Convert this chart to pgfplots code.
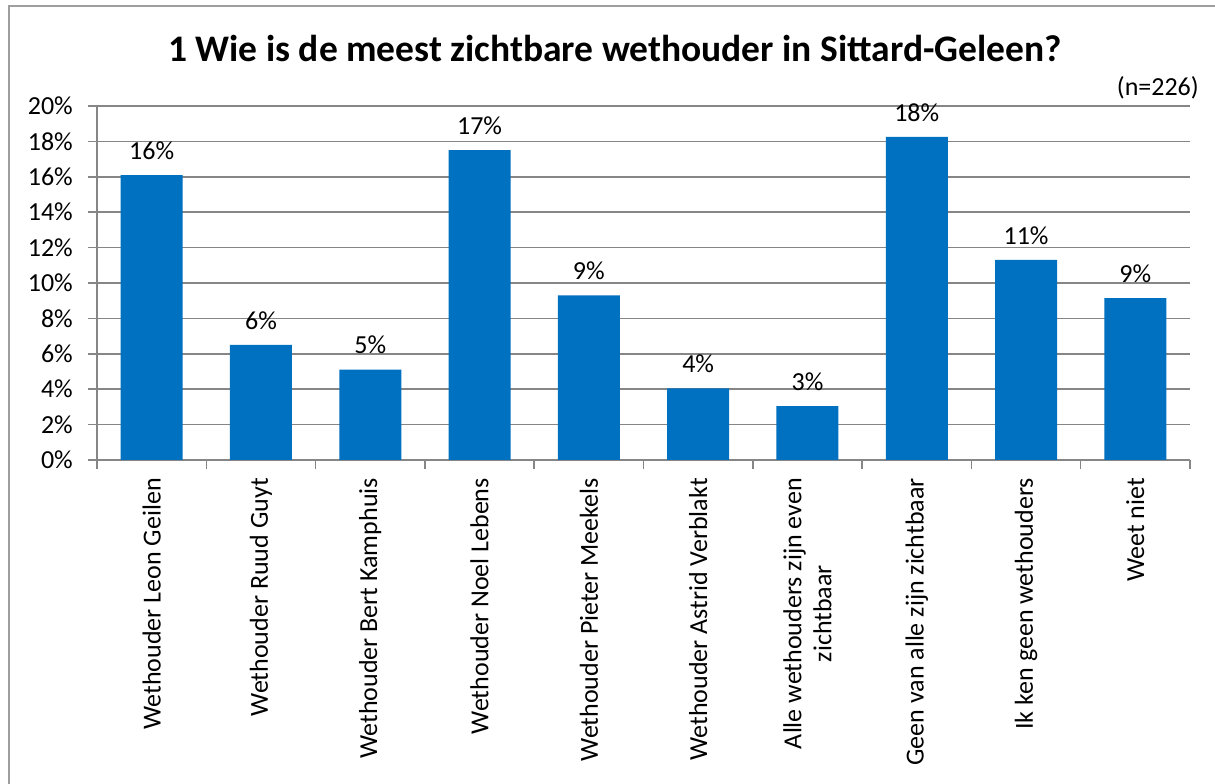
\documentclass[border=0pt]{standalone}
\usepackage{pgfplots}
\pgfplotsset{compat=1.18}
\usepackage{fontspec}
\setmainfont{Carlito}
\definecolor{barblue}{RGB}{0,112,192}
\definecolor{gridgray}{RGB}{134,134,134}
\begin{document}
\begin{tikzpicture}[x=1pt,y=1pt]
\useasboundingbox (0,0) rectangle (1215,784);
\fill[white] (0,0) rectangle (1215,784);
\draw[gridgray!80, line width=1.5pt] (9,-5) -- (9,778) -- (1225,778);
\node[font=\fontsize{37.5}{42}\selectfont\bfseries] at (615,736) {1 Wie is de meest zichtbare wethouder in Sittard-Geleen?};
\node[font=\fontsize{26}{30}\selectfont, anchor=east, inner sep=0pt] at (1199,696) {(n=226)};
\begin{axis}[
  at={(97pt,324pt)}, anchor=south west,
  width=1093pt, height=354pt, scale only axis,
  xmin=-0.5, xmax=9.5, ymin=0, ymax=20,
  ytick={0,2,...,20},
  yticklabel={\pgfmathprintnumber{\tick}\%},
  /pgf/number format/assume math mode=true,
  xtick={0,...,9},
  xticklabels={Wethouder Leon Geilen, Wethouder Ruud Guyt, Wethouder Bert Kamphuis, Wethouder Noel Lebens, Wethouder Pieter Meekels, Wethouder Astrid Verblakt, {Alle wethouders zijn even\\zichtbaar}, Geen van alle zijn zichtbaar, Ik ken geen wethouders, Weet niet},
  minor xtick={-0.5,0.5,...,9.5},
  every major x tick/.append style={draw=none},
  every minor x tick/.append style={draw=gridgray, line width=1.5pt},
  ytick style={draw=gridgray, line width=1.5pt},
  tick align=outside,
  major tick length=9pt, minor tick length=9pt,
  axis x line*=bottom, axis y line*=left,
  axis line style={draw=gridgray, line width=1.5pt, -},
  ymajorgrids, grid style={draw=gridgray, line width=1.5pt},
  tick label style={font=\fontsize{26}{30}\selectfont},
  xticklabel style={rotate=90, anchor=east, align=center, inner sep=0pt},
  xticklabel shift=9pt,
  yticklabel style={inner sep=0pt},
  yticklabel shift=15pt,
  nodes near coords, point meta=explicit symbolic,
  every node near coord/.append style={font=\fontsize{26}{30}\selectfont, anchor=south, yshift=12pt, text=black},
]
\addplot[ybar, bar width=62pt, fill=barblue, draw=none] coordinates {
(0,16.1) [16\%]
(1,6.5) [6\%]
(2,5.1) [5\%]
(3,17.5) [17\%]
(4,9.3) [9\%]
(5,4.05) [4\%]
(6,3.05) [3\%]
(7,18.25) [18\%]
(8,11.3) [11\%]
(9,9.15) [9\%]
};
\end{axis}
\end{tikzpicture}
\end{document}
